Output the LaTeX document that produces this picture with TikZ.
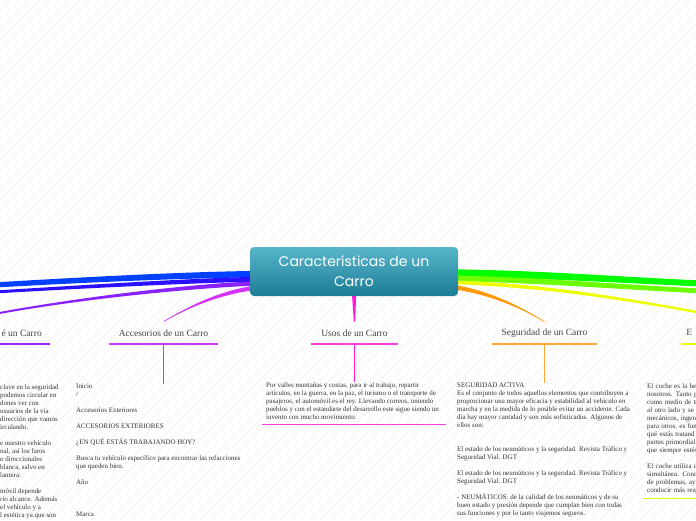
\documentclass[tikz,border=0pt]{standalone}
\usepackage{fontspec}
\setmainfont{Liberation Serif}
\newfontfamily\titlefont{Poppins}
\usetikzlibrary{calc}
\pgfdeclarelayer{bg}
\pgfsetlayers{bg,main}
\definecolor{blueA}{HTML}{0040FF}
\definecolor{blueB}{HTML}{2A10FF}
\definecolor{violetC}{HTML}{8A22FF}
\definecolor{magC}{HTML}{D633FF}
\definecolor{pinkC}{HTML}{FF1AD9}
\definecolor{orangeC}{HTML}{FF9900}
\definecolor{orangeL}{HTML}{FFAA33}
\definecolor{yellowC}{HTML}{EEFF00}
\definecolor{greenA}{HTML}{00FF00}
\definecolor{greenB}{HTML}{6CFF00}
\definecolor{tealTop}{HTML}{58B6CB}
\definecolor{tealBot}{HTML}{1C7C95}
\definecolor{labelgray}{HTML}{444444}
\definecolor{bodygray}{HTML}{333333}
\definecolor{hatchgray}{HTML}{F1F1F1}
\newcommand{\branch}[7]{%
  \fill[#1] ($(#2)+(0,-#6)$) .. controls ($(#3)+(0,-#6)$) and ($(#4)+(0,-#7)$) .. ($(#5)+(0,-#7)$)
    -- ($(#5)+(0,#7)$) .. controls ($(#4)+(0,#7)$) and ($(#3)+(0,#6)$) .. ($(#2)+(0,#6)$) -- cycle;}
\tikzset{
  titlebox/.style={rounded corners=4pt, top color=tealTop, bottom color=tealBot, draw=none,
    minimum width=208pt, minimum height=49pt, inner sep=0pt, align=center, text=white,
    font=\titlefont\fontsize{14}{20}\selectfont},
  lbl/.style={inner sep=0pt, minimum height=22pt, text=labelgray, font=\fontsize{9.5}{11}\selectfont},
  body/.style={inner sep=0pt, anchor=north west, align=left, text=bodygray, font=\fontsize{6.95}{8}\selectfont},
  uline/.style={line width=1.2pt},
  stem/.style={line width=1pt},
  hatch/.style={draw=hatchgray, line width=0.5pt}
}
\begin{document}
\begin{tikzpicture}[x=1pt,y=-1pt]
\useasboundingbox (0,0) rectangle (696,520);
\clip (0,0) rectangle (696,520);

% central node
\node[titlebox] (c) at (354,271.5) {Características de un\\Carro};

% branch labels
\node[lbl, minimum width=57pt, anchor=south west] (lq) at (-7,344) {é un Carro};
\node[lbl, minimum width=109pt, anchor=south] (la) at (163.5,344) {Accesorios de un Carro};
\node[lbl, minimum width=87pt, anchor=south] (lu) at (354.5,344) {Usos de un Carro};
\node[lbl, minimum width=105pt, anchor=south] (ls) at (544.5,344) {Seguridad de un Carro};
\node[lbl, minimum width=14pt, anchor=south west] (le) at (682,344) {E};

% body texts
\node[body] (tq) at (0,384) {clave en la seguridad\\ podemos circular en\\ dones ver con\\ usuarios de la vía\\ dirección que vamos\\irculando.\\[8pt]
e nuestro vehículo\\nal, así los faros\\o direccionales\\ blanca, salvo en\\lantera:\\[8pt]
móvil depende\\rio alcance. Además\\el vehículo y a\\l estética ya que son};

\node[body] (ta) at (76,383.5) {Inicio\\/\\[8pt]Accesorios Exteriores\\[8pt]ACCESORIOS EXTERIORES\\[8pt]¿EN QUÉ ESTÁS TRABAJANDO HOY?\\[8pt]Busca tu vehículo específico para encontrar las refacciones\\que queden bien.\\[8pt]Año\\[24pt]Marca};

\node[body, inner xsep=4pt] (tu) at (262,382) {Por valles montañas y costas, para ir al trabajo, repartir\\artículos, en la guerra, en la paz, el turismo o el transporte de\\pasajeros, el automóvil es el rey. Llevando correos, uniendo\\pueblos y con el estandarte del desarrollo este sigue siendo un\\invento con mucho movimiento.};

\node[body] (ts) at (457,383) {SEGURIDAD ACTIVA\\Es el conjunto de todos aquellos elementos que contribuyen a\\proporcionar una mayor eficacia y estabilidad al vehículo en\\marcha y en la medida de lo posible evitar un accidente. Cada\\día hay mayor cantidad y son más sofisticados. Algunos de\\ellos son:\\[16pt]El estado de los neumáticos y la seguridad. Revista Tráfico y\\Seguridad Vial. DGT\\[8pt]El estado de los neumáticos y la seguridad. Revista Tráfico y\\Seguridad Vial. DGT\\[8pt]- NEUMÁTICOS: de la calidad de los neumáticos y de su\\buen estado y presión depende que cumplan bien con todas\\sus funciones y por lo tanto viajemos seguros.};

\node[body, inner xsep=4pt, text width=100pt] (te) at (643,383) {El coche es la her\\nosotros. Tanto p\\como medio de tr\\al otro lado y se d\\mecánicos, ingen\\para otros, es fun\\qué estás tratand\\partes primordial\\que siempre estés\\[8pt]El coche utiliza d\\simultánea. Cono\\de problemas, ayu\\conducir más resp};

% underlines and stems
\draw[uline, draw=violetC!80!magC] (lq.south west) -- (lq.south east);
\draw[uline, draw=magC] (la.south west) -- (la.south east);
\draw[uline, draw=pinkC!85!white] (lu.south west) -- (lu.south east);
\draw[uline, draw=orangeL] (ls.south west) -- (ls.south east);
\draw[uline, draw=yellowC] (le.south west) -- (le.south east);
\draw[stem, draw=magC] (la.south) -- (la.south |- ta.north);
\draw[stem, draw=pinkC] (lu.south) -- (lu.south |- tu.north);
\draw[stem, draw=orangeL] (ls.south) -- (ls.south |- ts.north);
\draw[uline, draw=pinkC!85!white] ($(tu.south west)+(0,5)$) -- ++(184,0);
\draw[uline, draw=yellowC] ($(te.south west)+(0,5)$) -- ($(te.south east)+(0,5)$);

\begin{pgfonlayer}{bg}
  \fill[white] (0,0) rectangle (696,520);
  \foreach \i in {-520,-510,...,700} \draw[hatch] (\i,520) -- ++(520,-520);
  % branch coordinates
  \coordinate (sB1) at (262,274);
  \coordinate (sB2) at (262,279);
  \coordinate (sV) at (262,283);
  \coordinate (sM) at (262,287);
  \coordinate (sG1) at (446,273);
  \coordinate (sG2) at (446,278);
  \coordinate (sY) at (446,282);
  \coordinate (sO) at (446,286);
  \coordinate (eB1) at (-6,285);
  \coordinate (eB2) at (-6,292);
  \coordinate (eV) at (-6,314);
  \coordinate (eG1) at (702,283.5);
  \coordinate (eG2) at (702,291);
  \coordinate (eY) at (702,313);
  % left branches
  \branch{blueA}{sB1}{180,275}{80,280}{eB1}{3.2}{2.6}
  \branch{blueB}{sB2}{180,281}{80,287}{eB2}{2.4}{1.5}
  \branch{violetC}{sV}{190,286}{80,298}{eV}{2.2}{1}
  \branch{magC}{sM}{220,291}{185,309}{la.north}{2.2}{0.4}
  % Usos
  \fill[pinkC] ($(c.south)+(-2.3,-6)$) -- ($(lu.north)+(-0.7,0)$) -- ($(lu.north)+(0.7,0)$) -- ($(c.south)+(2.3,-6)$) -- cycle;
  % right branches
  \branch{greenA}{sG1}{540,274}{620,280}{eG1}{3.8}{3}
  \branch{greenB}{sG2}{540,280}{620,287}{eG2}{2.8}{2.4}
  \branch{yellowC}{sY}{540,285}{620,298}{eY}{1.9}{1.2}
  \branch{orangeC}{sO}{490,291}{525,310}{ls.north}{2.2}{0.4}
\end{pgfonlayer}
\end{tikzpicture}
\end{document}
